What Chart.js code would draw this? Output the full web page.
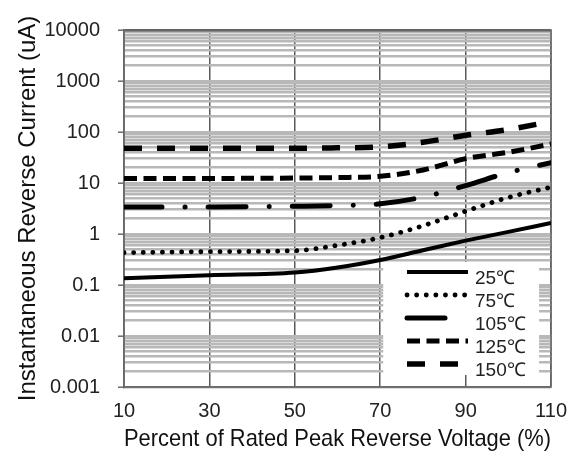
<!DOCTYPE html>
<html>
<head>
<meta charset="utf-8">
<script src="https://cdn.jsdelivr.net/npm/chart.js@4.4.0/dist/chart.umd.min.js"></script>
<style>
  html, body { margin: 0; padding: 0; background: #fff; }
  #c { display: block; }
</style>
</head>
<body>
<canvas id="c" width="579" height="459"></canvas>
<script>
// values
const voltagePct = [10, 30, 50, 60, 70, 80, 90, 100, 110];
const current25 = [0.135, 0.155, 0.175, 0.22, 0.31, 0.48, 0.74, 1.1, 1.65];
const current75 = [0.43, 0.45, 0.47, 0.6, 0.85, 1.45, 2.8, 5.2, 8.3];
const current105 = [3.4, 3.4, 3.5, 3.6, 3.9, 5.3, 8.9, 16, 25];
const current125 = [12.3, 12.3, 12.5, 12.8, 13.5, 18, 30, 40, 58];
const current150 = [48, 48, 48, 49, 51, 63, 86, 112, 160];
const seriesLabels = ['25℃', '75℃', '105℃', '125℃', '150℃'];
const xTicks = [10, 30, 50, 70, 90, 110];
const yDecades = [0.001, 0.01, 0.1, 1, 10, 100, 1000, 10000];

const FONT = "'Liberation Sans', Arial, sans-serif";

function pts(ys) {
    return voltagePct.map((x, i) => ({x: x, y: ys[i]}));
}
function isDecade(v) {
    const l = Math.log10(v);
    return Math.abs(l - Math.round(l)) < 1e-9;
}

// style of each series (also used by the legend)
const styles = [
    {width: 4, dash: [], cap: 'butt'},
    {width: 4.8, dash: [0.1, 9.5], cap: 'round'},
    {width: 5, dash: [38, 23, 0.1, 23], cap: 'round'},
    {width: 5, dash: [13, 6.5], cap: 'butt'},
    {width: 5.5, dash: [18, 15], cap: 'butt'}
];
const seriesData = [current25, current75, current105, current125, current150];

const datasets = seriesData.map((d, i) => ({
    label: seriesLabels[i],
    data: pts(d),
    borderColor: '#000',
    backgroundColor: '#000',
    borderWidth: styles[i].width,
    borderDash: styles[i].dash,
    borderCapStyle: styles[i].cap,
    pointRadius: 0,
    fill: false,
    cubicInterpolationMode: 'monotone'
}));

// frame round the plot area
const framePlugin = {
    id: 'frame',
    beforeDatasetsDraw(chart) {
        const a = chart.chartArea, ctx = chart.ctx;
        ctx.save();
        ctx.strokeStyle = '#6a6a6a';
        ctx.lineWidth = 1.5;
        ctx.strokeRect(a.left, a.top, a.right - a.left, a.bottom - a.top);
        ctx.restore();
    }
};

// legend box drawn inside the plot, lower right
const legendPlugin = {
    id: 'boxLegend',
    afterDatasetsDraw(chart) {
        const ctx = chart.ctx;
        const xs = chart.scales.x;
        const left = xs.getPixelForValue(70) + 3;
        const right = xs.getPixelForValue(110) - 12;
        const top = 262, rowH = 23;
        ctx.save();
        ctx.fillStyle = '#fff';
        ctx.fillRect(left, top, right - left, 113);
        const x0 = 407, x1 = 468;
        styles.forEach((s, i) => {
            const y = 272 + i * rowH;
            ctx.beginPath();
            ctx.strokeStyle = '#000';
            ctx.lineWidth = s.width;
            ctx.lineCap = s.cap;
            ctx.setLineDash(s.dash);
            ctx.lineDashOffset = 0;
            ctx.moveTo(x0, y);
            ctx.lineTo(x1, y);
            ctx.stroke();
            ctx.setLineDash([]);
            ctx.fillStyle = '#222';
            ctx.font = '19px ' + FONT;
            ctx.textAlign = 'left';
            ctx.textBaseline = 'middle';
            ctx.fillText(seriesLabels[i], 475, y + 7);
        });
        ctx.restore();
    }
};

const chart = new Chart(document.getElementById('c'), {
    type: 'line',
    data: {datasets: datasets},
    plugins: [framePlugin, legendPlugin],
    options: {
        responsive: false,
        animation: false,
        layout: {padding: {left: 0, right: 24, top: 18, bottom: 0}},
        plugins: {
            legend: {display: false},
            tooltip: {enabled: false}
        },
        scales: {
            x: {
                type: 'linear',
                min: 10,
                max: 110,
                afterBuildTicks: function(scale) {
                    scale.ticks = xTicks.map(v => ({value: v}));
                },
                afterFit: function(scale) { scale.height = 72; },
                grid: {color: '#5a5a5a', lineWidth: 1.5, drawTicks: false},
                border: {display: true, color: '#6a6a6a', width: 1.5},
                ticks: {
                    color: '#222',
                    padding: 12,
                    maxRotation: 0,
                    font: {family: FONT, size: 20}
                },
                title: {
                    display: true,
                    text: 'Percent of Rated Peak Reverse Voltage (%)',
                    color: '#111',
                    font: {family: FONT, size: 24},
                    padding: 5
                }
            },
            y: {
                type: 'logarithmic',
                min: 0.001,
                max: 10000,
                afterBuildTicks: function(scale) {
                    const t = [];
                    yDecades.forEach(d => {
                        if (d === 10000) { t.push({value: d}); return; }
                        for (let k = 1; k <= 9; k++) {
                            t.push({value: Number((k * d).toPrecision(3))});
                        }
                    });
                    scale.ticks = t;
                },
                afterFit: function(scale) { scale.width = 124; },
                grid: {
                    color: c => (c.tick && c.tick.value === 10000) ? '#5a5a5a' : '#b8b8b8',
                    lineWidth: 2.4,
                    drawTicks: true,
                    tickLength: 6,
                    tickColor: c => (c.tick && isDecade(c.tick.value)) ? '#6a6a6a' : 'rgba(0,0,0,0)',
                    tickWidth: 1.5
                },
                border: {display: true, color: '#6a6a6a', width: 1.5},
                ticks: {
                    color: '#222',
                    padding: 18,
                    autoSkip: false,
                    font: {family: FONT, size: 20},
                    callback: function(v) {
                        return isDecade(v) ? String(v) : '';
                    }
                },
                title: {
                    display: true,
                    text: 'Instantaneous Reverse Current (uA)',
                    color: '#111',
                    font: {family: FONT, size: 24},
                    padding: 14
                }
            }
        }
    }
});
</script>
</body>
</html>
